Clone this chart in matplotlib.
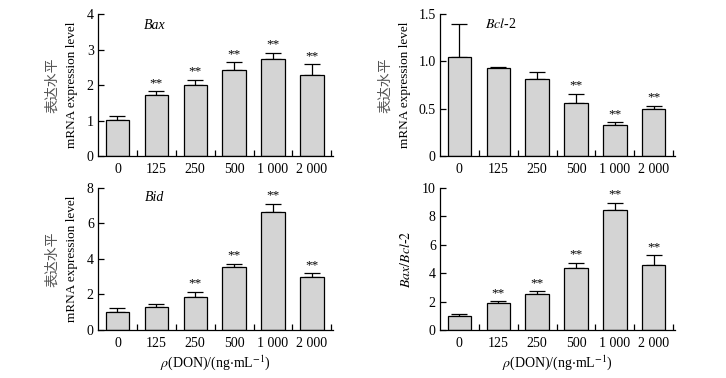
import matplotlib
matplotlib.use('Agg')
import matplotlib.pyplot as plt
import numpy as np

plt.rcParams['font.family'] = ['Liberation Serif', 'Noto Sans CJK SC']
plt.rcParams['mathtext.fontset'] = 'stix'

doses = ['0', '125', '250', '500', '1 000', '2 000']

bax = [1.02, 1.72, 2.0, 2.43, 2.74, 2.27]
bax_err = [0.11, 0.10, 0.15, 0.21, 0.17, 0.31]
bax_sig = ['', '**', '**', '**', '**', '**']

bcl2 = [1.05, 0.93, 0.81, 0.56, 0.325, 0.50]
bcl2_err = [0.34, 0.01, 0.08, 0.10, 0.035, 0.03]
bcl2_sig = ['', '', '', '**', '**', '**']

bid = [1.03, 1.31, 1.87, 3.52, 6.63, 3.01]
bid_err = [0.19, 0.13, 0.28, 0.21, 0.47, 0.17]
bid_sig = ['', '', '**', '**', '**', '**']

ratio = [1.0, 1.92, 2.53, 4.36, 8.45, 4.59]
ratio_err = [0.12, 0.09, 0.19, 0.37, 0.52, 0.66]
ratio_sig = ['', '**', '**', '**', '**', '**']

fig = plt.figure(figsize=(7.26, 3.78), dpi=100)

w, h = 0.324, 0.376
axes = [fig.add_axes([0.135, 0.587, w, h]),
        fig.add_axes([0.606, 0.587, w, h]),
        fig.add_axes([0.135, 0.127, w, h]),
        fig.add_axes([0.606, 0.127, w, h])]

panels = [(bax, bax_err, bax_sig, 4, [0, 1, 2, 3, 4], ['0', '1', '2', '3', '4']),
          (bcl2, bcl2_err, bcl2_sig, 1.5, [0, 0.5, 1.0, 1.5], ['0', '0.5', '1.0', '1.5']),
          (bid, bid_err, bid_sig, 8, [0, 2, 4, 6, 8], ['0', '2', '4', '6', '8']),
          (ratio, ratio_err, ratio_sig, 10, [0, 2, 4, 6, 8, 10], ['0', '2', '4', '6', '8', '10'])]

x = np.arange(len(doses))
for ax, (vals, err, sig, ymax, yt, ytl) in zip(axes, panels):
    ax.bar(x, vals, width=0.6, color='#d4d4d4', edgecolor='black', linewidth=0.9, zorder=2)
    ax.errorbar(x, vals, yerr=[np.zeros(len(vals)), err], fmt='none', ecolor='black',
                elinewidth=0.9, capsize=6, capthick=0.9, zorder=1)
    for xi, v, e, s in zip(x, vals, err, sig):
        if s:
            ax.annotate(s, (xi, v + e), xytext=(0, 1.5), textcoords='offset points',
                        ha='center', va='bottom', fontsize=9.5)
    ax.set_xlim(-0.5, 5.55)
    ax.set_ylim(0, ymax)
    ax.set_yticks(yt)
    ax.set_yticklabels(ytl, fontsize=10)
    ax.set_xticks(x)
    ax.set_xticklabels(doses, fontsize=10)
    ax.set_xticks(np.arange(0.5, 6, 1), minor=True)
    ax.tick_params(axis='x', which='major', length=0, pad=5)
    ax.tick_params(axis='x', which='minor', direction='in', length=4, width=0.9)
    ax.tick_params(axis='y', direction='in', length=4, width=0.9, pad=3)
    ax.spines['top'].set_visible(False)
    ax.spines['right'].set_visible(False)
    ax.spines['left'].set_linewidth(0.9)
    ax.spines['bottom'].set_linewidth(0.9)

# gene labels
axes[0].text(0.243, 0.92, 'Bax', transform=axes[0].transAxes, ha='center', va='center',
             fontsize=10, style='italic')
axes[1].text(0.26, 0.93, r'$\mathit{Bcl}$-2', transform=axes[1].transAxes, ha='center',
             va='center', fontsize=10)
axes[2].text(0.24, 0.93, 'Bid', transform=axes[2].transAxes, ha='center', va='center',
             fontsize=10, style='italic')

# y labels
for ax, xc, xe in [(axes[0], -0.196, -0.11), (axes[2], -0.196, -0.11), (axes[1], -0.233, -0.148)]:
    ax.text(xc, 0.5, '表达水平', transform=ax.transAxes, rotation=90, ha='center',
            va='center', fontsize=10, color='#555555', family=['Noto Sans CJK SC'])
    ax.text(xe, 0.5, 'mRNA expression level', transform=ax.transAxes, rotation=90,
            ha='center', va='center', fontsize=9.5)
axes[3].text(-0.144, 0.5, r'$\mathit{Bax/Bcl}$-$\mathit{2}$', transform=axes[3].transAxes,
             rotation=90, ha='center', va='center', fontsize=10)

for ax in axes[2:]:
    ax.set_xlabel(r'$\rho$(DON)/(ng$\cdot$mL$^{-1}$)', fontsize=10, labelpad=2)

fig.savefig('out.png', dpi=100)
